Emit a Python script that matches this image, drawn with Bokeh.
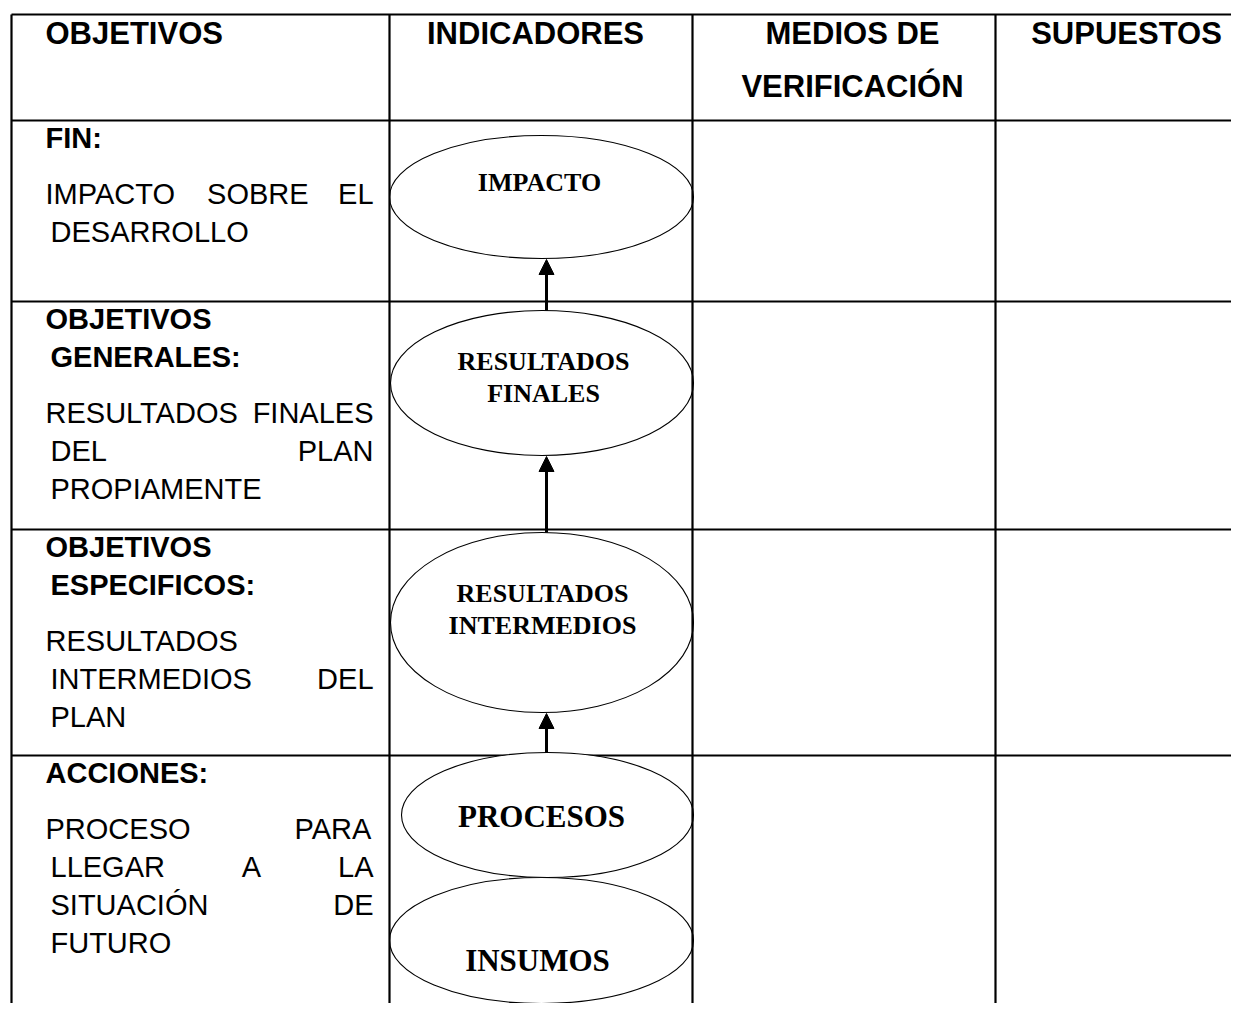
from bokeh.plotting import figure
from bokeh.models import ColumnDataSource, Range1d, Arrow, NormalHead
from bokeh.core.properties import value
from bokeh.embed import file_html
from bokeh.resources import INLINE

# ---------------- data (texts of the logical-framework matrix) ----------------
header_lines = [["OBJETIVOS"], ["INDICADORES"], ["MEDIOS DE", "VERIFICACIÓN"], ["SUPUESTOS"]]
row_titles = [["FIN:"], ["OBJETIVOS", "GENERALES:"], ["OBJETIVOS", "ESPECIFICOS:"], ["ACCIONES:"]]
row_descriptions = [
    ["IMPACTO SOBRE EL", "DESARROLLO"],
    ["RESULTADOS FINALES", "DEL PLAN", "PROPIAMENTE"],
    ["RESULTADOS", "INTERMEDIOS DEL", "PLAN"],
    ["PROCESO PARA", "LLEGAR A LA", "SITUACIÓN DE", "FUTURO"],
]
indicator_labels = [["IMPACTO"], ["RESULTADOS", "FINALES"], ["RESULTADOS", "INTERMEDIOS"], ["PROCESOS"], ["INSUMOS"]]
# arrows: indicator index (from) -> indicator index (to)
arrow_links = [(1, 0), (2, 1), (3, 2)]

# ---------------- layout ----------------
COL_X = [11, 389, 692, 995]
ROW_Y = [14, 120, 301, 529, 755]
TABLE_RIGHT, TABLE_BOTTOM = 1260, 1030
ELL_BOX = [(389, 693, 135, 258), (390, 693, 310, 455), (390, 693, 532, 712),
           (401, 693, 752, 877), (389, 693, 877, 1003)]
ELL_TEXT_X = [539, 543, 542, 541, 537]
ELL_TEXT_Y0 = [182, 361, 593, 816, 960]
ELL_TEXT_SIZE = [26, 26, 26, 31, 31]
ELL_LINE_GAP = 32
ARROW_X = 546
HEAD_X = [45, 535, 852, 1126]
HEAD_Y = [33, 86]
HEAD_SIZE = 31
BODY_SIZE = 29
TEXT_LEFT, TEXT_INDENT, TEXT_RIGHT = 45, 50, 373
TITLE_OFFSET, LINE_GAP, PARA_GAP = 18, 38, 56

SANS = "Liberation Sans"
SERIF = "Liberation Serif"

W_REG = dict(A=667, B=667, C=722, D=722, E=667, F=611, G=778, H=722, I=278, J=500, K=667, L=556,
             M=833, N=722, O=778, P=667, Q=778, R=722, S=667, T=611, U=722, V=667, W=944, X=667,
             Y=667, Z=611)
W_REG["Ó"] = 778
W_REG[" "] = 278
W_REG[":"] = 278


def width(word, size):
    return sum(W_REG.get(ch, 667) for ch in word) / 1000.0 * size


def base(cap_mid, size):
    # empirical: the rendered cap middle lands on the given alphabetic y
    return cap_mid - 0.012 * size


p = figure(width=1231, height=1003, x_range=Range1d(0, 1231), y_range=Range1d(1003, 0),
           x_axis_location=None, y_axis_location=None, toolbar_location=None,
           output_backend="svg", min_border=0, min_border_left=0, min_border_right=0,
           min_border_top=0, min_border_bottom=0, background_fill_color="white",
           border_fill_color="white", outline_line_color=None)
p.grid.visible = False

# horizontal rules
p.segment(x0=[COL_X[0]] * len(ROW_Y), x1=[TABLE_RIGHT] * len(ROW_Y), y0=ROW_Y, y1=ROW_Y,
          line_color="black", line_width=2.2)

# ellipses
ex = [(b[0] + b[1]) / 2 for b in ELL_BOX]
ey = [(b[2] + b[3]) / 2 for b in ELL_BOX]
ew = [b[1] - b[0] for b in ELL_BOX]
eh = [b[3] - b[2] for b in ELL_BOX]
order = [4, 3, 2, 1, 0]
p.ellipse(x=[ex[i] for i in order], y=[ey[i] for i in order], width=[ew[i] for i in order],
          height=[eh[i] for i in order], fill_color="white", line_color="black", line_width=1.1)

# vertical rules
p.segment(x0=COL_X, x1=COL_X, y0=[ROW_Y[0]] * len(COL_X), y1=[TABLE_BOTTOM] * len(COL_X),
          line_color="black", line_width=2.2)

# arrows between indicators
a_src = ColumnDataSource(dict(
    xs=[ARROW_X] * len(arrow_links), xe=[ARROW_X] * len(arrow_links),
    ys=[ELL_BOX[a][2] for a, b in arrow_links], ye=[ELL_BOX[b][3] + 1 for a, b in arrow_links]))
p.add_layout(Arrow(source=a_src, x_start="xs", y_start="ys", x_end="xe", y_end="ye",
                   line_width=3, line_color="black",
                   end=NormalHead(size=15, fill_color="black", line_color="black", line_width=1)))

# header texts
hx, hy, ht, ha = [], [], [], []
for c, lines in enumerate(header_lines):
    for k, t in enumerate(lines):
        hx.append(HEAD_X[c]); hy.append(base(HEAD_Y[k], HEAD_SIZE)); ht.append(t)
        ha.append("left" if c == 0 else "center")
for al in ("left", "center"):
    idx = [i for i in range(len(ht)) if ha[i] == al]
    p.text(x=[hx[i] for i in idx], y=[hy[i] for i in idx], text=[ht[i] for i in idx],
           text_font=value(SANS), text_font_style="bold", text_font_size=f"{HEAD_SIZE}px",
           text_align=al, text_baseline="alphabetic", text_color="black")

# first column: titles (bold) and justified descriptions (regular)
tx, ty, tt = [], [], []
dx, dy, dt = [], [], []
for r in range(len(row_titles)):
    y = ROW_Y[r + 1] + TITLE_OFFSET
    for k, t in enumerate(row_titles[r]):
        if k > 0:
            y += LINE_GAP
        tx.append(TEXT_LEFT if k == 0 else TEXT_INDENT); ty.append(base(y, BODY_SIZE)); tt.append(t)
    y += PARA_GAP
    lines = row_descriptions[r]
    for k, line in enumerate(lines):
        if k > 0:
            y += LINE_GAP
        x0 = TEXT_LEFT if k == 0 else TEXT_INDENT
        words = line.split(" ")
        last = k == len(lines) - 1
        if last or len(words) == 1:
            dx.append(x0); dy.append(base(y, BODY_SIZE)); dt.append(line)
        else:
            ws = [width(w, BODY_SIZE) for w in words]
            gap = (TEXT_RIGHT - x0 - sum(ws)) / (len(words) - 1)
            cur = x0
            for w, wl in zip(words, ws):
                dx.append(cur); dy.append(base(y, BODY_SIZE)); dt.append(w)
                cur += wl + gap

p.text(x=tx, y=ty, text=tt, text_font=value(SANS), text_font_style="bold",
       text_font_size=f"{BODY_SIZE}px", text_align="left", text_baseline="alphabetic",
       text_color="black")
p.text(x=dx, y=dy, text=dt, text_font=value(SANS), text_font_style="normal",
       text_font_size=f"{BODY_SIZE}px", text_align="left", text_baseline="alphabetic",
       text_color="black")

# indicator labels in the ellipses
for size in sorted(set(ELL_TEXT_SIZE)):
    lx, ly, lt = [], [], []
    for i, lines in enumerate(indicator_labels):
        if ELL_TEXT_SIZE[i] != size:
            continue
        for k, t in enumerate(lines):
            lx.append(ELL_TEXT_X[i]); ly.append(base(ELL_TEXT_Y0[i] + k * ELL_LINE_GAP, size)); lt.append(t)
    p.text(x=lx, y=ly, text=lt, text_font=value(SERIF), text_font_style="bold",
           text_font_size=f"{size}px", text_align="center", text_baseline="alphabetic",
           text_color="black")

open("out.html", "w").write(file_html(p, INLINE))
